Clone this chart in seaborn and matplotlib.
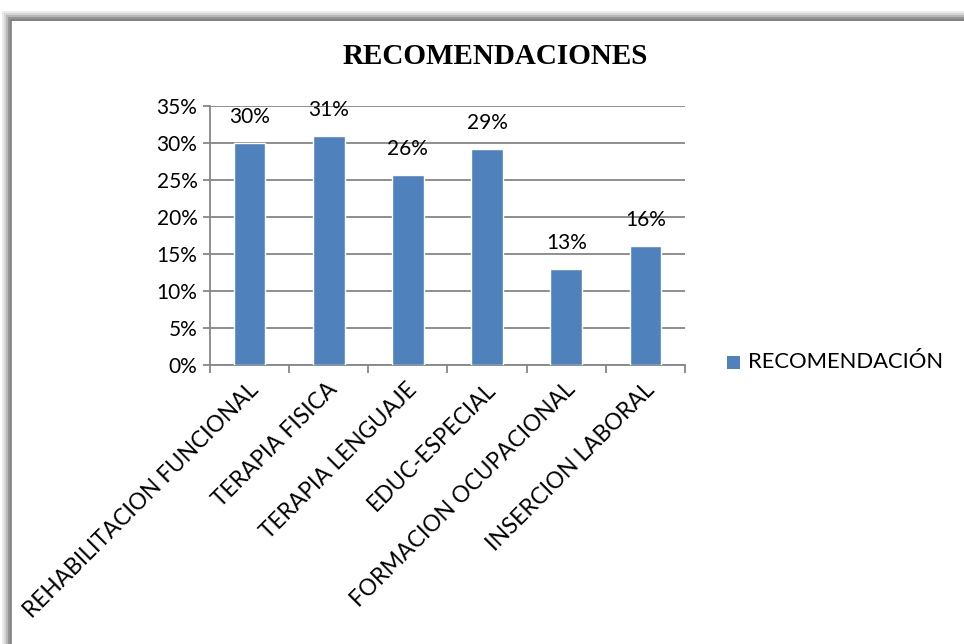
import numpy as np
import pandas as pd
import matplotlib
matplotlib.use('Agg')
import matplotlib.pyplot as plt
import matplotlib.transforms as mtransforms
from matplotlib.patches import Rectangle
import seaborn as sns

# --- chart data ---
categories = ['REHABILITACION FUNCIONAL', 'TERAPIA FISICA', 'TERAPIA LENGUAJE',
              'EDUC-ESPECIAL', 'FORMACION OCUPACIONAL', 'INSERCION LABORAL']
values = [0.30, 0.31, 0.257, 0.292, 0.13, 0.161]
series_name = 'RECOMENDACIÓN'
title = 'RECOMENDACIONES'
y_ticks = [0, 0.05, 0.10, 0.15, 0.20, 0.25, 0.30, 0.35]

BAR_COLOR = '#4F81BD'
GRID_COLOR = '#868686'

sns.set_theme(style='white')
plt.rcParams['font.family'] = ['Lato', 'DejaVu Sans']
plt.rcParams['text.color'] = 'black'

df = pd.DataFrame({'categoria': categories, 'valor': values})

W, H = 964, 644
fig = plt.figure(figsize=(W / 100, H / 100), dpi=100)
fig.patch.set_facecolor('white')

# outer frame with a soft shadow (Excel chart area look)
for i, (off, col) in enumerate([(8, '#ececec'), (6, '#d6d6d6'), (4, '#b8b8b8'), (2, '#959595')]):
    fig.patches.append(Rectangle(((10 - off) / W, -0.1), 2, (H - 19 + off) / H + 0.1,
                                 transform=fig.transFigure, facecolor=col,
                                 edgecolor='none', zorder=0 + i * 0.1))
fig.patches.append(Rectangle((11 / W, -0.1), 2, (H - 21) / H + 0.1,
                             transform=fig.transFigure, facecolor='white',
                             edgecolor='none', zorder=0.5))
fig.add_artist(plt.Line2D([11 / W, 11 / W], [0, (H - 20) / H], color='#7f7f7f',
                          lw=1.2, transform=fig.transFigure, zorder=0.6))
fig.add_artist(plt.Line2D([11 / W, 1], [(H - 20) / H, (H - 20) / H], color='#7f7f7f',
                          lw=1.2, transform=fig.transFigure, zorder=0.6))

# plot area in pixel coordinates of the reference
x0, x1, y_top, y_bot = 210, 685, 106, 365
ax = fig.add_axes([x0 / W, (H - y_bot) / H, (x1 - x0) / W, (y_bot - y_top) / H])
ax.set_zorder(10)
ax.patch.set_alpha(0)

sns.barplot(data=df, x='categoria', y='valor', color=BAR_COLOR, width=0.4,
            saturation=1, ax=ax, zorder=3)

ax.set_ylim(0, 0.35)
ax.set_xlim(-0.5, len(categories) - 0.5)
ax.set_yticks(y_ticks)
ax.set_yticklabels([f'{int(round(t * 100))}%' for t in y_ticks], fontsize=15)
ax.yaxis.grid(True, color=GRID_COLOR, lw=1.3, zorder=0)
ax.set_axisbelow(True)
ax.set_xlabel('')
ax.set_ylabel('')

for side in ['top', 'right']:
    ax.spines[side].set_visible(False)
for side in ['left', 'bottom']:
    ax.spines[side].set_color(GRID_COLOR)
    ax.spines[side].set_linewidth(1.3)

ax.tick_params(axis='y', which='major', left=True, length=5, width=1.3,
               color=GRID_COLOR, pad=4, labelcolor='black')
ax.set_xticks(np.arange(len(categories)))
ax.set_xticks(np.arange(-0.5, len(categories)), minor=True)
ax.tick_params(axis='x', which='major', bottom=False, length=0, pad=10)
ax.tick_params(axis='x', which='minor', bottom=True, length=6, width=1.3,
               color=GRID_COLOR)
ax.set_xticklabels(categories, rotation=45, ha='right', rotation_mode='anchor',
                   fontsize=16.3, color='black')
shift = mtransforms.ScaledTranslation(-2 / 100, 0, fig.dpi_scale_trans)
for lab in ax.get_xticklabels():
    lab.set_transform(lab.get_transform() + shift)

# value labels above bars
for i, v in enumerate(values):
    ax.annotate(f'{int(round(v * 100))}%', (i, v), xytext=(0, 26),
                textcoords='offset pixels', ha='center', va='center',
                fontsize=15, color='black')

# title
fig.text(495 / W, (H - 57) / H, title, ha='center', va='center', zorder=20,
         fontsize=21, fontweight='bold', color='black',
         family=['Liberation Serif', 'DejaVu Serif'])

# legend
fig.patches.append(Rectangle((727 / W, (H - 369) / H), 13 / W, 13 / H,
                             transform=fig.transFigure, facecolor=BAR_COLOR,
                             edgecolor='none', zorder=20))
fig.text(748 / W, (H - 362) / H, series_name, ha='left', va='center', zorder=20,
         fontsize=15.8, color='black')

fig.savefig('out.png', dpi=100, facecolor='white')
